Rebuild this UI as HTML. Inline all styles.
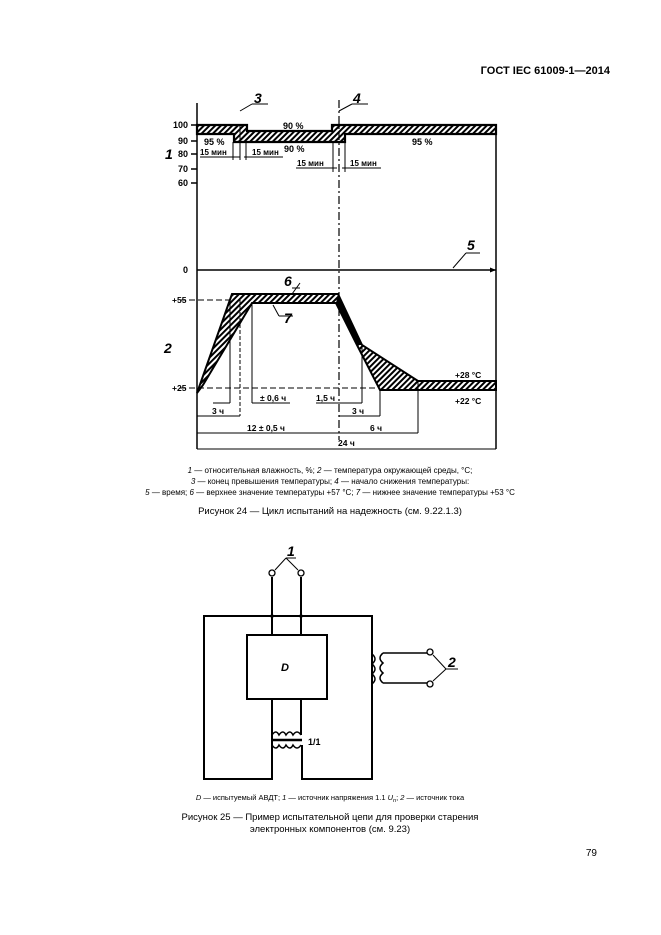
<!DOCTYPE html>
<html><head><meta charset="utf-8"><style>
html,body{margin:0;padding:0;background:#fff;}
svg{display:block;}
text{font-family:"Liberation Sans",sans-serif;fill:#000;}
</style></head><body>
<svg width="661" height="935" viewBox="0 0 661 935" xmlns="http://www.w3.org/2000/svg">
<defs>
<pattern id="h" patternUnits="userSpaceOnUse" width="4" height="4" patternTransform="rotate(45)">
<rect width="4" height="4" fill="#fff"/><rect width="2" height="4" fill="#000"/>
</pattern>
</defs>
<text x="610" y="74" font-size="11" font-weight="bold" text-anchor="end">ГОСТ IEC 61009-1—2014</text>

<g stroke="#000" stroke-width="1.5" fill="none">
<line x1="197" y1="103" x2="197" y2="449"/>
<line x1="191" y1="125" x2="197" y2="125"/><line x1="191" y1="141" x2="197" y2="141"/>
<line x1="191" y1="154" x2="197" y2="154"/><line x1="191" y1="169" x2="197" y2="169"/><line x1="191" y1="183" x2="197" y2="183"/>
</g>
<path d="M197 125 H247 V131 H332 V125 H496 V134 H345 V142 H234 V134 H197 Z" fill="url(#h)" stroke="#000" stroke-width="2.2"/>
<line x1="496" y1="134" x2="496" y2="449" stroke="#000" stroke-width="1.5"/>
<line x1="339" y1="100" x2="339" y2="440" stroke="#000" stroke-width="1.2" stroke-dasharray="8,3,2,3"/>
<g font-size="9" font-weight="bold">
<text x="173" y="128">100</text><text x="178" y="144">90</text><text x="178" y="157">80</text><text x="178" y="172">70</text><text x="178" y="186">60</text><text x="183" y="273">0</text>
<text x="204" y="145">95 %</text><text x="283" y="129">90 %</text><text x="284" y="152">90 %</text><text x="412" y="145">95 %</text>
<text x="200" y="155" font-size="8">15 мин</text><text x="252" y="155" font-size="8">15 мин</text>
<text x="297" y="166" font-size="8">15 мин</text><text x="350" y="166" font-size="8">15 мин</text>
</g>
<g stroke="#000" stroke-width="1">
<line x1="200" y1="157" x2="240" y2="157"/><line x1="244" y1="157" x2="283" y2="157"/>
<line x1="296" y1="168" x2="337" y2="168"/><line x1="342" y1="168" x2="381" y2="168"/>
<line x1="233" y1="142" x2="233" y2="160"/><line x1="240" y1="125" x2="240" y2="160"/><line x1="246" y1="142" x2="246" y2="160"/>
<line x1="333" y1="142" x2="333" y2="172"/><line x1="345" y1="142" x2="345" y2="172"/>
<line x1="240" y1="111" x2="252" y2="104"/><line x1="252" y1="104" x2="268" y2="104"/>
<line x1="339" y1="111" x2="352" y2="104"/><line x1="352" y1="104" x2="368" y2="104"/>
<line x1="453" y1="268" x2="466" y2="253"/><line x1="466" y1="253" x2="480" y2="253"/>
</g>
<g font-size="14" font-weight="bold" font-style="italic">
<text x="254" y="103">3</text><text x="353" y="103">4</text><text x="467" y="250">5</text>
<text x="165" y="159">1</text><text x="164" y="353">2</text>
<text x="284" y="286">6</text><text x="284" y="323">7</text>
</g>
<line x1="197" y1="270" x2="496" y2="270" stroke="#000" stroke-width="1.5"/>
<path d="M496 270 l-6 -2.5 v5 z" fill="#000"/>

<line x1="180" y1="300" x2="232" y2="300" stroke="#000" stroke-width="1" stroke-dasharray="6,3"/>
<line x1="180" y1="388" x2="496" y2="388" stroke="#000" stroke-width="1" stroke-dasharray="6,3"/>
<path d="M197 393 L232 294 H338 L362 345 L418 381 H496 V390 H380 L357 345 L336 303 H252 L203 385 Z" fill="url(#h)" stroke="#000" stroke-width="2"/>
<path d="M338 294 L362 345 L357 345 L336 303 Z" fill="#000"/>
<g stroke="#000" stroke-width="1">
<line x1="230" y1="300" x2="230" y2="403"/><line x1="240" y1="300" x2="240" y2="416" stroke-dasharray="4,2"/>
<line x1="252" y1="303" x2="252" y2="403"/><line x1="362" y1="345" x2="362" y2="403"/>
<line x1="380" y1="390" x2="380" y2="416"/><line x1="418" y1="381" x2="418" y2="433"/>
<line x1="213" y1="403" x2="230" y2="403"/><line x1="252" y1="403" x2="290" y2="403"/>
<line x1="316" y1="403" x2="362" y2="403"/>
<line x1="197" y1="416" x2="240" y2="416"/><line x1="339" y1="416" x2="380" y2="416"/>
<line x1="197" y1="433" x2="339" y2="433"/><line x1="339" y1="433" x2="418" y2="433"/>
<line x1="197" y1="449" x2="496" y2="449"/>
<line x1="300" y1="283" x2="292" y2="294"/><line x1="292" y1="288" x2="300" y2="288"/>
<line x1="273" y1="305" x2="279" y2="316"/><line x1="279" y1="316" x2="293" y2="316"/>
</g>
<g font-size="8.5" font-weight="bold">
<text x="172" y="303">+55</text><text x="172" y="391">+25</text>
<text x="260" y="401">± 0,6 ч</text><text x="316" y="401">1,5 ч</text>
<text x="212" y="414">3 ч</text><text x="352" y="414">3 ч</text>
<text x="247" y="431">12 ± 0,5 ч</text><text x="370" y="431">6 ч</text>
<text x="338" y="446">24 ч</text>
<text x="455" y="378">+28 °C</text><text x="455" y="404">+22 °C</text>
</g>

<g font-size="8" text-anchor="middle">
<text x="330" y="473"><tspan font-style="italic">1</tspan> — относительная влажность, %; <tspan font-style="italic">2</tspan> — температура окружающей среды, °C;</text>
<text x="330" y="484"><tspan font-style="italic">3</tspan> — конец превышения температуры; <tspan font-style="italic">4</tspan> — начало снижения температуры:</text>
<text x="330" y="495"><tspan font-style="italic">5</tspan> — время; <tspan font-style="italic">6</tspan> — верхнее значение температуры +57 °C; <tspan font-style="italic">7</tspan> — нижнее значение температуры +53 °C</text>
<text x="330" y="514" font-size="9.5">Рисунок 24 — Цикл испытаний на надежность (см. 9.22.1.3)</text>
</g>

<g stroke="#000" stroke-width="2" fill="none">
<path d="M272 735 V779 H204 V616 H372 V779 H302 V745"/>
<rect x="247" y="635" width="80" height="64"/>
<line x1="272" y1="577" x2="272" y2="635"/><line x1="301" y1="577" x2="301" y2="635"/>
<line x1="272" y1="699" x2="272" y2="735"/><line x1="301" y1="699" x2="301" y2="735"/>
<path d="M272 735 q4 -6 7 0 q4 -6 7 0 q4 -6 7 0 q4 -6 8 0" stroke-width="1.5"/>
<path d="M272 745 q4 6 7 0 q4 6 7 0 q4 6 7 0 q4 6 8 0" stroke-width="1.5"/>
<line x1="271" y1="740" x2="302" y2="740" stroke-width="2.5"/>
<path d="M372 654 q6 5 0 10 q6 5 0 10 q6 5 0 10" stroke-width="1.5"/>
<path d="M383 653 q-6 5 0 10 q-6 5 0 10 q-6 5 0 10 M383 653 H428 M383 683 H428" stroke-width="1.5"/>
</g>
<g fill="#fff" stroke="#000" stroke-width="1.3">
<circle cx="272" cy="573" r="3"/><circle cx="301" cy="573" r="3"/>
<circle cx="430" cy="652" r="3"/><circle cx="430" cy="684" r="3"/>
</g>
<g fill="#000"><circle cx="272" cy="616" r="1.8"/><circle cx="301" cy="616" r="1.8"/></g>
<g stroke="#000" stroke-width="1">
<line x1="275" y1="570" x2="286" y2="558"/><line x1="286" y1="558" x2="298" y2="570"/><line x1="286" y1="558" x2="296" y2="558"/>
<line x1="433" y1="655" x2="446" y2="669"/><line x1="446" y1="669" x2="433" y2="681"/><line x1="446" y1="669" x2="458" y2="669"/>
</g>
<g font-size="14" font-weight="bold" font-style="italic">
<text x="287" y="556">1</text><text x="448" y="667">2</text>
<text x="281" y="671" font-size="11">D</text>
</g>
<text x="308" y="745" font-size="9" font-weight="bold">1/1</text>

<g text-anchor="middle">
<text x="330" y="800" font-size="7.5"><tspan font-style="italic">D</tspan> — испытуемый АВДТ; <tspan font-style="italic">1</tspan> — источник напряжения 1.1 <tspan font-style="italic">U</tspan><tspan font-style="italic" font-size="5.5" dy="2">n</tspan><tspan dy="-2">; </tspan><tspan font-style="italic">2</tspan> — источник тока</text>
<text x="330" y="820" font-size="9.5">Рисунок 25 — Пример испытательной цепи для проверки старения</text>
<text x="330" y="832" font-size="9.5">электронных компонентов (см. 9.23)</text>
</g>
<text x="597" y="856" font-size="10" text-anchor="end">79</text>
</svg>
</body></html>
